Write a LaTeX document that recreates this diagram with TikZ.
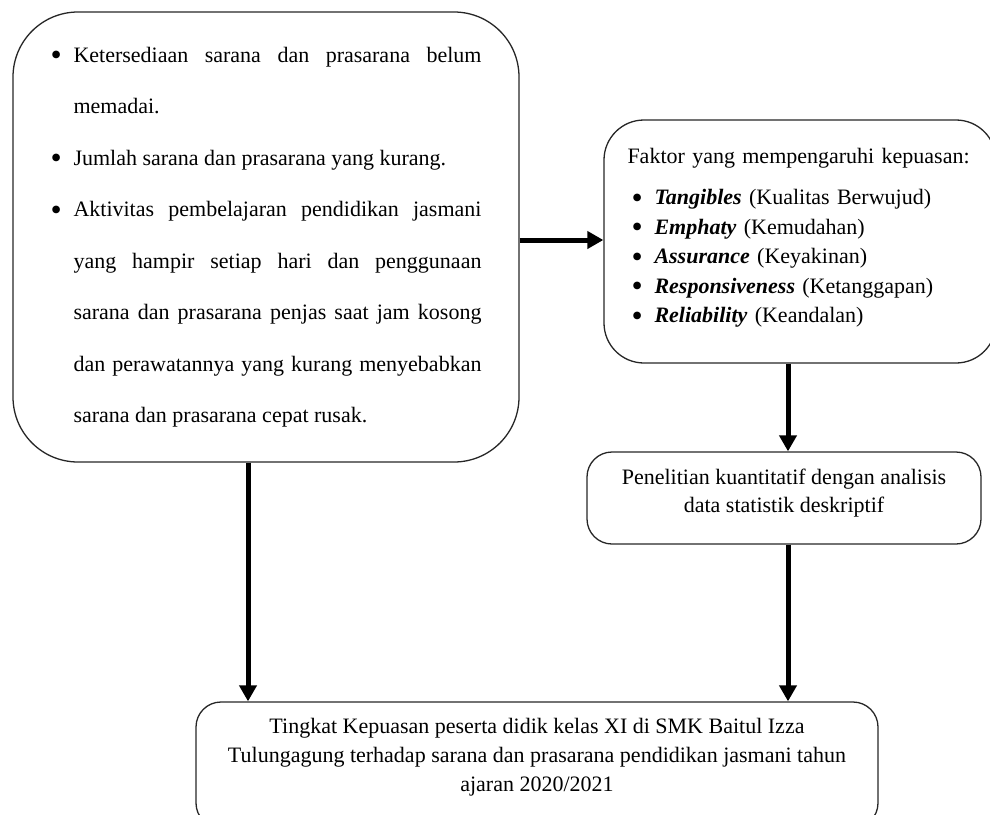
\documentclass[tikz,border=0pt]{standalone}
\usepackage{fontspec}
\usepackage{graphicx}
\setmainfont{Liberation Serif}
\usetikzlibrary{arrows.meta}
\newcommand{\titik}{\raisebox{-3.5pt}{\scalebox{1.45}{\textbullet}}}
\newcommand{\butir}{\noindent\hangindent=23pt\hangafter=1\makebox[23pt][l]{\titik}}
\newcommand{\butirkecil}{\noindent\hspace*{4pt}\makebox[23pt][l]{\titik}}
\tikzset{
	kotak/.style={draw=black!85, line width=1.3pt, inner sep=0pt},
	panah/.style={line width=5pt, -{Triangle[width=17pt,length=16pt]}}
}

\begin{document}
\begin{tikzpicture}[x=1pt, y=-1pt]
		%%%%% START %%%%%
		\useasboundingbox (0, 0) rectangle (990, 814);
		
		\node[kotak, rounded corners=65pt, minimum width=506pt, minimum height=450pt, text width=431pt, align=justify, font=\fontsize{22}{51.5}\selectfont] (masalah) at (266, 237) {%
			\butir Ketersediaan sarana dan prasarana belum\linebreak memadai.\par
			\butir Jumlah sarana dan prasarana yang kurang.\par
			\butir Aktivitas pembelajaran pendidikan jasmani\linebreak yang hampir setiap hari dan penggunaan\linebreak sarana dan prasarana penjas saat jam kosong\linebreak dan perawatannya yang kurang menyebabkan\linebreak sarana dan prasarana cepat rusak.\par};
		
		\node[kotak, rounded corners=40pt, minimum width=392pt, minimum height=243pt, text width=345pt, align=left, font=\fontsize{22}{29.5}\selectfont] (faktor) at (800, 241.5) {%
			Faktor yang mempengaruhi kepuasan:\par\vspace{12pt}
			\butirkecil\textbf{\textit{Tangibles}} (Kualitas Berwujud)\par
			\butirkecil\textbf{\textit{Emphaty}} (Kemudahan)\par
			\butirkecil\textbf{\textit{Assurance}} (Keyakinan)\par
			\butirkecil\textbf{\textit{Responsiveness}} (Ketanggapan)\par
			\butirkecil\textbf{\textit{Reliability}} (Keandalan)\rule[-12pt]{0pt}{12pt}\par};
		
		\node[kotak, rounded corners=25pt, minimum width=394pt, minimum height=92pt, align=center, font=\fontsize{22}{28}\selectfont] (penelitian) at (784, 498) {%
			Penelitian kuantitatif dengan analisis\\
			data statistik deskriptif\rule[-15pt]{0pt}{15pt}};
		
		\node[kotak, rounded corners=25pt, minimum width=682pt, minimum height=126pt, align=center, font=\fontsize{22}{29}\selectfont] (tingkat) at (537, 765) {%
			Tingkat Kepuasan peserta didik kelas XI di SMK Baitul Izza\\
			Tulungagung terhadap sarana dan prasarana pendidikan jasmani tahun\\
			ajaran 2020/2021\rule[-20pt]{0pt}{20pt}};
		
		\draw[panah] ([yshift=-3pt]masalah.east) -- ([yshift=-3pt]masalah.east -| faktor.west);
		\draw[panah] ([xshift=4pt]penelitian.north |- faktor.south) -- ([xshift=4pt]penelitian.north);
		\draw[panah] ([xshift=4pt]penelitian.south) -- ([xshift=4pt]penelitian.south |- tingkat.north);
		\draw[panah] ([xshift=-18pt]masalah.south) -- ([xshift=-18pt]masalah.south |- tingkat.north);
		
		%%%%% END %%%%%
	\end{tikzpicture}
\end{document}
